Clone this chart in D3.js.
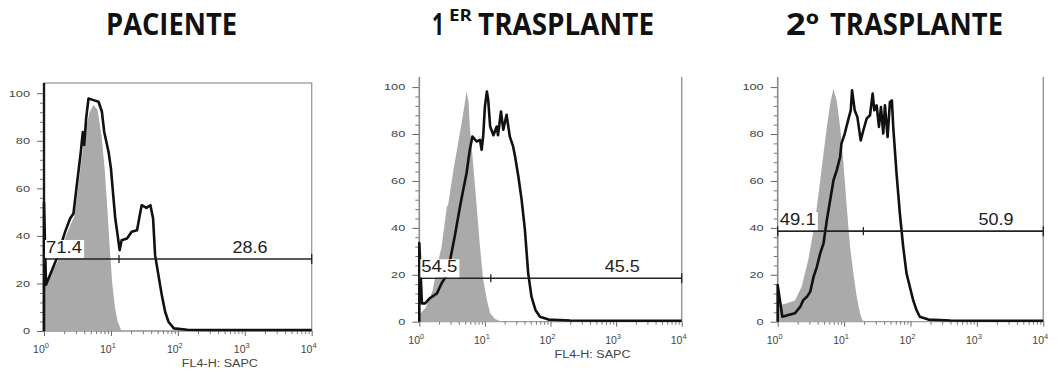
<!DOCTYPE html>
<html>
<head>
<meta charset="utf-8">
<script src="https://cdn.jsdelivr.net/npm/d3@7"></script>
<style>
  body { margin: 0; background: #fff; }
  svg { display: block; }
</style>
</head>
<body>
<div id="wrapper"></div>
<script>
// FL4-H histograms: x stored as log10(FL4-H), y as % of max count
const decades = [1, 10, 100, 1000, 10000]
const decadeExponents = ["0", "1", "2", "3", "4"]
const countTicks = [0, 20, 40, 60, 80, 100]
const axisTitle = "FL4-H: SAPC"

const titlePieces = [
  ["PACIENTE"],
  ["1", "ER", "TRASPLANTE"],
  ["2º", "TRASPLANTE"]
]

// gray filled control histograms
const pacienteControl = [[0,18],[0.1,24],[0.2,29],[0.3,38],[0.4,45],[0.45,48],[0.5,58],[0.56,72],[0.62,84],[0.68,92],[0.74,95],[0.8,93],[0.86,82],[0.91,67],[0.95,50],[0.98,36],[1.02,20],[1.06,10],[1.1,4],[1.15,0.5],[1.2,0]]
const trasplante1Control = [[0,3],[0.1,6],[0.2,13],[0.3,27],[0.34,32],[0.42,49],[0.44,50],[0.52,64.7],[0.6,77.5],[0.67,88.9],[0.72,98.1],[0.75,94],[0.77,83.2],[0.82,67.6],[0.875,49],[0.925,32],[0.975,17.8],[1.03,9.3],[1.08,3.6],[1.15,1.3],[1.25,0]]
const trasplante2Control = [[0,7],[0.1,7.5],[0.26,9],[0.36,14.9],[0.46,26.3],[0.54,39],[0.59,49],[0.64,60.3],[0.69,71.7],[0.74,83],[0.79,92.9],[0.84,99.3],[0.89,94],[0.94,83],[0.99,67.4],[1.04,48.9],[1.09,31.9],[1.14,20.6],[1.19,10.6],[1.24,3.6],[1.27,0.9],[1.3,0]]

// black sample histograms
const pacienteSample = [[0,0],[0,54],[0.03,19.5],[0.19,30.5],[0.315,41.7],[0.39,47.3],[0.44,49.4],[0.49,61.3],[0.55,75.3],[0.58,83.7],[0.6,78.2],[0.63,89.4],[0.665,97.8],[0.74,97.1],[0.815,96.4],[0.865,92.2],[0.9,83.7],[0.965,75.3],[1.0,68.4],[1.03,58.5],[1.065,47.3],[1.1,40.3],[1.13,34],[1.16,38.2],[1.24,38.9],[1.31,41.7],[1.39,42.4],[1.44,50.1],[1.46,52.9],[1.53,51.8],[1.59,52.9],[1.63,47.3],[1.66,31.9],[1.71,23.5],[1.76,15.1],[1.81,8.1],[1.86,3.9],[1.94,1.1],[2.14,0.5],[2.5,0.4],[3,0.4],[3.5,0.4],[4,0.4]]
const trasplante1Sample = [[0,0],[0,33.5],[0.04,7.8],[0.09,7.8],[0.16,10],[0.27,12.1],[0.34,16.4],[0.42,19.9],[0.47,26.3],[0.54,36.3],[0.62,49],[0.67,56.2],[0.72,63.3],[0.77,73.3],[0.81,78.9],[0.875,76.8],[0.925,77.5],[0.95,73.3],[0.975,79.5],[1.0,91.7],[1.03,98.1],[1.05,94.6],[1.08,83.2],[1.13,79.5],[1.18,83.2],[1.2,79.5],[1.245,89.6],[1.28,81.8],[1.33,88.2],[1.38,78.9],[1.43,74.7],[1.46,70.4],[1.51,61.9],[1.56,51.9],[1.61,39.1],[1.66,20.6],[1.71,10.7],[1.77,5],[1.84,2.1],[1.97,0.9],[2.3,0.5],[3,0.4],[4,0.4]]
const trasplante2Sample = [[0,0],[0,15.6],[0.07,2.1],[0.16,2.9],[0.26,3.6],[0.34,6.4],[0.385,9.2],[0.44,10.6],[0.49,12.8],[0.54,19.1],[0.59,23.4],[0.64,29.1],[0.69,33.4],[0.74,43.3],[0.79,51.8],[0.84,60.3],[0.89,64.6],[0.94,70.2],[0.96,75.9],[1.01,80.2],[1.06,85.8],[1.1,90.1],[1.12,98.6],[1.16,90.1],[1.2,87.2],[1.25,77.3],[1.29,81.6],[1.34,86.6],[1.39,88],[1.43,97.2],[1.455,90.1],[1.49,92.2],[1.525,83],[1.555,91.5],[1.59,80.2],[1.615,92.2],[1.655,78.7],[1.69,93.6],[1.72,94.3],[1.74,83],[1.79,63.1],[1.84,46.1],[1.89,31.9],[1.94,20.6],[1.99,14.9],[2.04,9.2],[2.09,5],[2.14,2.1],[2.27,0.9],[2.6,0.5],[3,0.4],[4,0.4]]

// gates
const gateCounts = [30.3, 18.5, 38.6]
const gateSplits = [13.2, 12.3, 19.5]
const gateLeftLabels = ["71.4", "54.5", "49.1"]
const gateRightLabels = ["28.6", "45.5", "50.9"]

const controls = [pacienteControl, trasplante1Control, trasplante2Control]
const samples = [pacienteSample, trasplante1Sample, trasplante2Sample]

// layout of the three panels (pixels)
const layout = [
  { left: 44, right: 311.7, top: 83, bottom: 331, box: true, xTitle: true, rightLabelAt: 2190, axisColor: "#1a1a1a" },
  { left: 419.3, right: 681.7, top: 77, bottom: 321.7, box: false, xTitle: true, rightLabelAt: 2290, axisColor: "#8a8a8a" },
  { left: 777.7, right: 1043.3, top: 77, bottom: 321.7, box: false, xTitle: false, rightLabelAt: 3550, axisColor: "#8a8a8a" }
]
const titleLayout = [
  [{ x: 106, y: 35, size: 30, w: 131 }],
  [{ x: 432, y: 35, size: 30, w: 12 }, { x: 449, y: 21, size: 16, w: 23 }, { x: 478, y: 35, size: 30, w: 176 }],
  [{ x: 786, y: 35, size: 30, w: 33 }, { x: 830, y: 35, size: 30, w: 173 }]
]

const width = 1059
const height = 372
const tickFont = "'Liberation Sans', Arial, sans-serif"

const svg = d3.select("#wrapper")
  .append("svg")
    .attr("width", width)
    .attr("height", height)

svg.append("rect")
  .attr("width", width)
  .attr("height", height)
  .attr("fill", "#fff")

// titles
titlePieces.forEach((pieces, i) => {
  pieces.forEach((txt, j) => {
    const l = titleLayout[i][j]
    svg.append("text")
      .attr("x", l.x)
      .attr("y", l.y)
      .attr("font-family", "'Open Sans', sans-serif")
      .attr("font-weight", 700)
      .attr("font-size", l.size)
      .attr("fill", "#111")
      .attr("textLength", l.w)
      .attr("lengthAdjust", "spacingAndGlyphs")
      .text(txt)
  })
})

function drawPanel(p, i) {
  const xScale = d3.scaleLog()
    .domain([1, 10000])
    .range([p.left, p.right])
  const yScale = d3.scaleLinear()
    .domain([0, 104.3])
    .range([p.bottom, p.top])
  const xOf = d => xScale(10 ** d[0])

  const g = svg.append("g")

  // frame
  if (p.box) {
    g.append("rect")
      .attr("x", p.left)
      .attr("y", p.top)
      .attr("width", p.right - p.left)
      .attr("height", p.bottom - p.top)
      .attr("fill", "none")
      .attr("stroke", "#9a9a9a")
      .attr("stroke-width", 1.3)
  } else {
    g.append("line")
      .attr("x1", p.right).attr("x2", p.right)
      .attr("y1", p.top).attr("y2", p.bottom)
      .attr("stroke", "#9a9a9a")
      .attr("stroke-width", 1.5)
  }
  g.append("line")
    .attr("x1", p.left).attr("x2", p.right)
    .attr("y1", p.bottom).attr("y2", p.bottom)
    .attr("stroke", "#9a9a9a")
    .attr("stroke-width", 1.2)

  // y axis
  const minorCounts = d3.range(4, 104, 4).filter(v => v % 20 !== 0)
  const yMinor = g.append("g")
    .attr("transform", `translate(${p.left},0)`)
    .call(d3.axisLeft(yScale).tickValues(minorCounts).tickSize(4).tickFormat(""))
  yMinor.select(".domain").remove()
  yMinor.selectAll("line").attr("stroke", "#777")

  const yAxis = g.append("g")
    .attr("transform", `translate(${p.left},0)`)
    .call(d3.axisLeft(yScale).tickValues(countTicks).tickSize(7).tickPadding(7))
  yAxis.select(".domain").remove()
  yAxis.selectAll("line").attr("stroke", "#666")
  yAxis.selectAll("text")
    .attr("font-family", tickFont)
    .attr("font-size", 9)
    .attr("fill", "#444")
    .attr("textLength", d => String(d).length * 7.1)
    .attr("lengthAdjust", "spacingAndGlyphs")

  g.append("line")
    .attr("x1", p.left).attr("x2", p.left)
    .attr("y1", p.top).attr("y2", p.bottom)
    .attr("stroke", p.axisColor)
    .attr("stroke-width", p.box ? 2.4 : 1.6)

  // x axis
  const minorFl = []
  decades.slice(0, -1).forEach(d => {
    for (let k = 2; k < 10; k++) minorFl.push(d * k)
  })
  const xMinor = g.append("g")
    .attr("transform", `translate(0,${p.bottom})`)
    .call(d3.axisBottom(xScale).tickValues(minorFl).tickSize(3).tickFormat(""))
  xMinor.select(".domain").remove()
  xMinor.selectAll("line").attr("stroke", "#777")

  const xAxis = g.append("g")
    .attr("transform", `translate(0,${p.bottom})`)
    .call(d3.axisBottom(xScale).tickValues(decades).tickSize(5).tickFormat(""))
  xAxis.select(".domain").remove()
  xAxis.selectAll("line").attr("stroke", "#666")

  decades.forEach((d, k) => {
    const t = g.append("text")
      .attr("x", xScale(d) - 3)
      .attr("y", p.bottom + 22)
      .attr("text-anchor", "middle")
      .attr("font-family", tickFont)
      .attr("font-size", 10.5)
      .attr("fill", "#444")
    t.append("tspan").text("10")
    t.append("tspan")
      .attr("dy", -5)
      .attr("font-size", 7.5)
      .text(decadeExponents[k])
  })

  if (p.xTitle) {
    g.append("text")
      .attr("x", (xScale(1) + xScale(10000)) / 2 + 42)
      .attr("y", p.bottom + 36)
      .attr("text-anchor", "middle")
      .attr("font-family", tickFont)
      .attr("font-size", 10)
      .attr("fill", "#444")
      .attr("textLength", 76)
      .attr("lengthAdjust", "spacingAndGlyphs")
      .text(axisTitle)
  }

  // histograms
  const area = d3.area()
    .x(xOf)
    .y0(yScale(0))
    .y1(d => yScale(d[1]))
  g.append("path")
    .attr("d", area(controls[i]))
    .attr("fill", "#aaaaaa")

  const line = d3.line()
    .x(xOf)
    .y(d => yScale(d[1]))
  g.append("path")
    .attr("d", line(samples[i]))
    .attr("fill", "none")
    .attr("stroke", "#111")
    .attr("stroke-width", 2.6)
    .attr("stroke-linejoin", "round")

  // gate
  const gy = yScale(gateCounts[i])
  const gx0 = xScale(1)
  const gx1 = xScale(10000)
  const gate = g.append("g")
    .attr("stroke", "#222")
  gate.append("line")
    .attr("x1", gx0).attr("x2", gx1)
    .attr("y1", gy).attr("y2", gy)
    .attr("stroke-width", 1.6)
  ;[[gx0, 5], [gx1, 5], [xScale(gateSplits[i]), 4]].forEach(([tx, h]) => {
    gate.append("line")
      .attr("x1", tx).attr("x2", tx)
      .attr("y1", gy - h).attr("y2", gy + h)
      .attr("stroke-width", 1.3)
  })

  const leftText = g.append("text")
    .attr("x", gx0 + 2)
    .attr("y", gy - 6)
    .attr("font-family", tickFont)
    .attr("font-size", 16)
    .attr("fill", "#222")
    .attr("textLength", 36)
    .attr("lengthAdjust", "spacingAndGlyphs")
    .text(gateLeftLabels[i])
  const bb = leftText.node().getBBox()
  g.insert("rect", () => leftText.node())
    .attr("x", bb.x - 1)
    .attr("y", bb.y + 1)
    .attr("width", bb.width + 3)
    .attr("height", bb.height + 1)
    .attr("fill", "#fff")

  g.append("text")
    .attr("x", xScale(p.rightLabelAt))
    .attr("y", gy - 6)
    .attr("text-anchor", "end")
    .attr("font-family", tickFont)
    .attr("font-size", 16)
    .attr("fill", "#222")
    .attr("textLength", 35)
    .attr("lengthAdjust", "spacingAndGlyphs")
    .text(gateRightLabels[i])
}

layout.forEach(drawPanel)
</script>
</body>
</html>
